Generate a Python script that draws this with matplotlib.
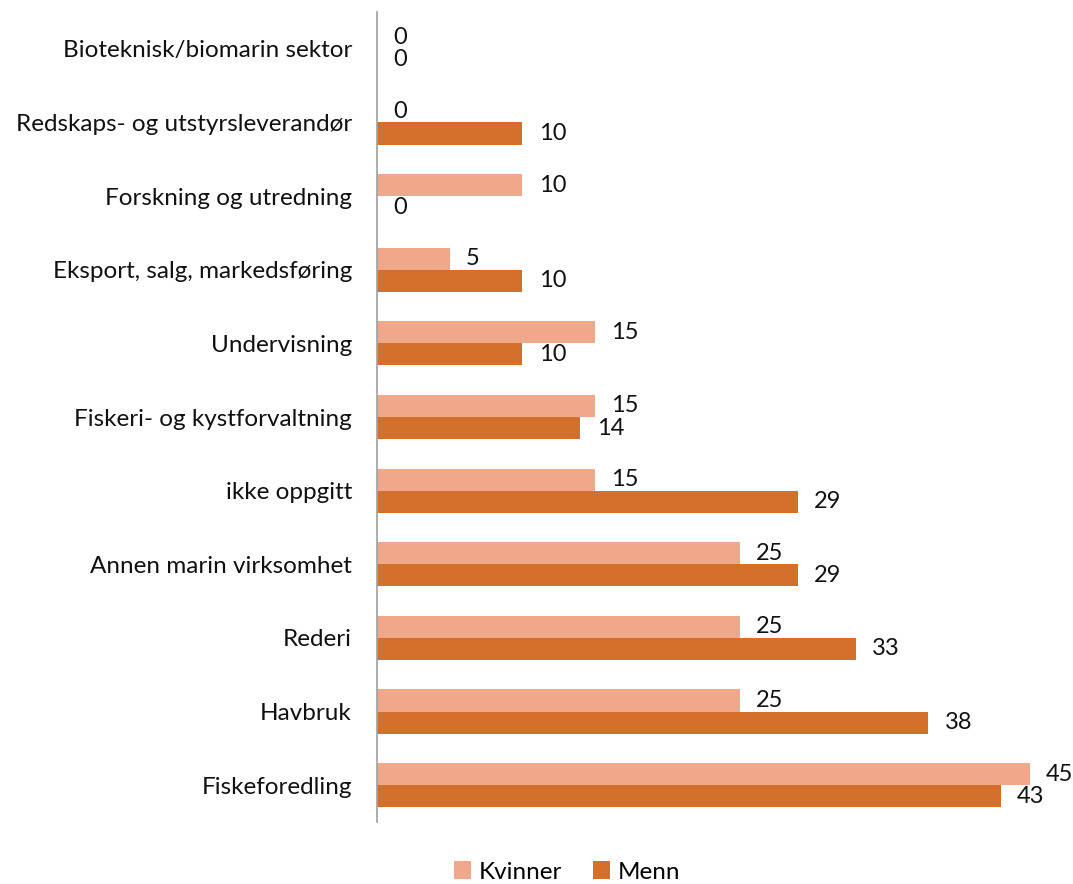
import matplotlib
matplotlib.use("Agg")
import matplotlib.pyplot as plt
import numpy as np

categories = ["Fiskeforedling", "Havbruk", "Rederi", "Annen marin virksomhet",
              "ikke oppgitt", "Fiskeri- og kystforvaltning", "Undervisning",
              "Eksport, salg, markedsføring", "Forskning og utredning",
              "Redskaps- og utstyrsleverandør", "Bioteknisk/biomarin sektor"]
kvinner = [45, 25, 25, 25, 15, 15, 15, 5, 10, 0, 0]
menn = [43, 38, 33, 29, 29, 14, 10, 10, 0, 10, 0]
series_names = ["Kvinner", "Menn"]

plt.rcParams['font.family'] = ['Lato', 'DejaVu Sans']
W, H = 1073, 884
fig = plt.figure(figsize=(W/100, H/100), dpi=100)
ax = fig.add_axes([377/W, 1-822/H, (W-377)/W, 810/H])

y = np.arange(len(categories))
h = 0.3
c_k = "#F0A88A"
c_m = "#D4702C"
bk = ax.barh(y + h/2, kvinner, height=h, color=c_k, label=series_names[0])
bm = ax.barh(y - h/2, menn, height=h, color=c_m, label=series_names[1])

fs = 17.5
dfs = 17
for yy, v in zip(y + h/2, kvinner):
    ax.annotate(str(v), (v, yy), xytext=(12, 0), textcoords="offset points",
                ha="left", va="center", fontsize=dfs, color="#111111")
for yy, v in zip(y - h/2, menn):
    ax.annotate(str(v), (v, yy), xytext=(12, 0), textcoords="offset points",
                ha="left", va="center", fontsize=dfs, color="#111111")

ax.set_xlim(0, 48)
ax.set_ylim(-0.5, len(categories) - 0.5)
ax.set_yticks(y)
ax.set_yticklabels(categories, fontsize=fs, color="#111111")
ax.tick_params(axis="y", length=0, pad=18)
ax.set_xticks([])
for s in ["top", "right", "bottom"]:
    ax.spines[s].set_visible(False)
ax.spines["left"].set_color("#A0A0A0")
ax.spines["left"].set_linewidth(1.2)

fig.legend(handles=[bk, bm], labels=series_names, loc="center",
           bbox_to_anchor=(567/W, 1-872/H), ncol=2, frameon=False,
           fontsize=fs, handlelength=0.7, handleheight=0.7,
           handletextpad=0.3, columnspacing=1.3)

fig.savefig("out.png", dpi=100)
